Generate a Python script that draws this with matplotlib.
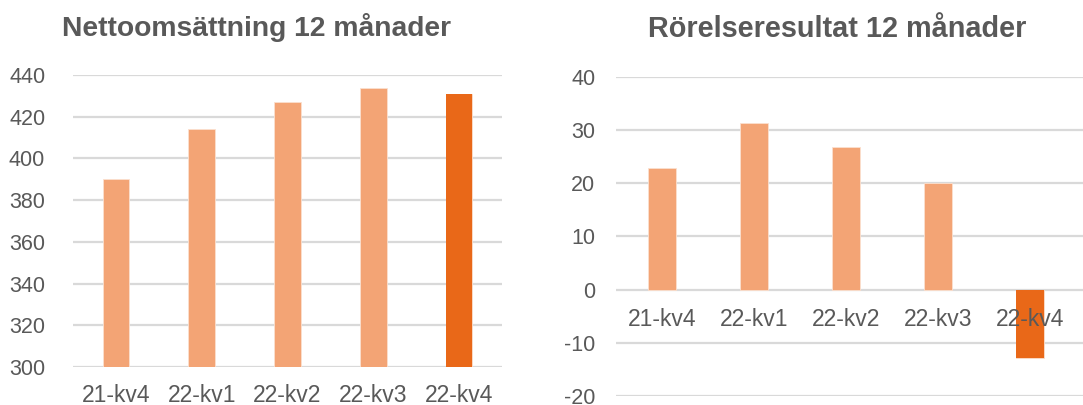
import numpy as np
import matplotlib
matplotlib.use("Agg")
import matplotlib.pyplot as plt

plt.rcParams['font.family'] = ['Liberation Sans', 'DejaVu Sans']
plt.rcParams['axes.unicode_minus'] = False

# data
quarters = ["21-kv4", "22-kv1", "22-kv2", "22-kv3", "22-kv4"]
net_sales = [390, 414, 427, 434, 431]
op_result = [22.9, 31.4, 26.9, 20.1, -12.9]
sales_ticks = [300, 320, 340, 360, 380, 400, 420, 440]
result_ticks = [-20, -10, 0, 10, 20, 30, 40]

LIGHT = "#F3A475"
DARK = "#E96818"
GRID = "#D9D9D9"
TEXT = "#595959"

fig = plt.figure(figsize=(10.83, 4.05), dpi=100)

x = np.arange(len(quarters))
colors = [LIGHT] * (len(quarters) - 1) + [DARK]


def style(ax, ticks):
    ax.set_yticks(ticks)
    ax.yaxis.grid(True, color=GRID, linewidth=1.6)
    ax.set_axisbelow(True)
    for s in ax.spines.values():
        s.set_visible(False)
    ax.tick_params(axis='both', length=0, colors=TEXT)
    ax.tick_params(axis='y', labelsize=15.5)
    ax.tick_params(axis='x', labelsize=16.5)
    ax.xaxis.set_zorder(5)


# left chart: net sales
ax1 = fig.add_axes([73 / 1083, 1 - 367 / 405, (502 - 73) / 1083, (367 - 75) / 405])
ax1.bar(x, net_sales, width=0.31, color=colors, edgecolor="#FBE0CF", linewidth=0.6, zorder=2)
ax1.bar(x[-1], net_sales[-1], width=0.31, color=DARK, zorder=2)
style(ax1, sales_ticks)
ax1.set_ylim(300, 440)
ax1.set_xlim(-0.5, 4.5)
ax1.set_xticks(x)
ax1.set_xticklabels(quarters)
ax1.tick_params(axis='x', pad=12)
ax1.tick_params(axis='y', pad=20)
fig.text(257 / 1083, 1 - 27 / 405, "Nettoomsättning 12 månader", ha='center', va='center',
         fontsize=20.3, fontweight='bold', color=TEXT)

# right chart: operating result
cat_w = (1076 - 616) / 5
ax2 = fig.add_axes([616 / 1083, 1 - 396 / 405, (1083 - 616) / 1083, (396 - 77) / 405])
ax2.bar(x, op_result, width=0.30, color=colors, edgecolor="#FBE0CF", linewidth=0.6, zorder=2)
ax2.bar(x[-1], op_result[-1], width=0.30, color=DARK, zorder=2)
style(ax2, result_ticks)
ax2.set_ylim(-20, 40)
ax2.set_xlim(-0.5, -0.5 + (1083 - 616) / cat_w)
ax2.set_xticks(x)
ax2.set_xticklabels(quarters)
ax2.spines['bottom'].set_position(('data', 0))
ax2.tick_params(axis='x', pad=13)
ax2.tick_params(axis='y', pad=15)
fig.text(837 / 1083, 1 - 29 / 405, "Rörelseresultat 12 månader", ha='center', va='center',
         fontsize=20.8, fontweight='bold', color=TEXT)

fig.savefig("out.png", dpi=100)
